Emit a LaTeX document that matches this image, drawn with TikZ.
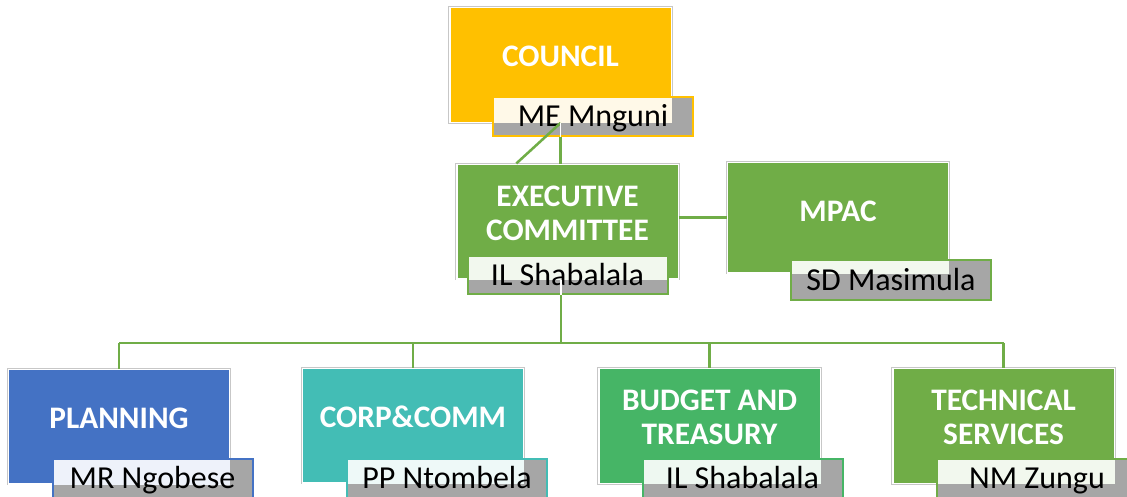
\documentclass[tikz,border=0pt]{standalone}
\usepackage{fontspec}
\setmainfont{Carlito}
\usetikzlibrary{calc,positioning}
\definecolor{councilorange}{HTML}{FFC000}
\definecolor{excogreen}{HTML}{70AD47}
\definecolor{planblue}{HTML}{4472C4}
\definecolor{corpteal}{HTML}{43BDB5}
\definecolor{budgetgreen}{HTML}{46B566}
\definecolor{namegrey}{HTML}{A6A6A6}
\tikzset{unit/.style={rectangle, fill=#1, minimum width=166pt, minimum height=86pt,
                      inner sep=0pt, draw=white, line width=1pt,
                      preaction={draw=black!22, line width=2.4pt}},
         title/.style={text=white, font=\bfseries\fontsize{23.5}{25.5}\selectfont,
                       align=center, yshift=6.3pt},
         namebox/.style 2 args={rectangle, fill=namegrey, draw=#1, line width=1.5pt,
                      minimum width=150pt, minimum height=29pt, inner sep=0pt,
                      text height=15.5pt, text depth=0pt,
                      font=\fontsize{24}{28}\selectfont,
                      path picture={\fill[#1!9!white] (path picture bounding box.north west)
                                    rectangle (#2.south east);}},
         link/.style={draw=excogreen, line width=1.9pt}}

\begin{document}
\begin{tikzpicture}[x=0.75pt, y=-0.75pt]
  \useasboundingbox (0,0) rectangle (1127,496);

  % units
  \node[unit=councilorange] (council) at (560.5,65) {};
  \node[unit=excogreen] (exec) at (567.5,221.5) {};
  \node[unit=excogreen, minimum height=83pt] (mpac) at (838,217.5) {};
  \node[unit=planblue] (planning) at (119,426.5) {};
  \node[unit=corpteal] (corp) at (413,425.5) {};
  \node[unit=budgetgreen] (budget) at (709.5,426) {};
  \node[unit=excogreen] (tech) at (1003.5,426) {};

  \node[title] (councilt) at (council) {COUNCIL};
  \node[title] (exect) at (exec) {EXECUTIVE\\COMMITTEE};
  \node[title, yshift=-2pt] (mpact) at (mpac) {MPAC};
  \node[title] (planningt) at (planning) {PLANNING};
  \node[title] (corpt) at (corp) {CORP\&COMM};
  \node[title] (budgett) at (budget) {BUDGET AND\\TREASURY};
  \node[title] (techt) at (tech) {TECHNICAL\\SERVICES};

  % connectors
  \coordinate (bus) at (561,343);
  \draw[link] (council.south) -- (council.south |- exec.north);
  \draw[link] (exec.east |- mpac.west) -- (mpac.west);
  \draw[link] (exec.south -| bus) -- (bus);
  \draw[link] (planning.north |- bus) -- (tech.north |- bus);
  \foreach \n in {planning,corp,budget,tech}
    \draw[link] (\n.north |- bus) -- (\n.north);

  % names
  \node[namebox={councilorange}{council}] (councilname) at (593,116.5) {ME Mnguni};
  \node[namebox={excogreen}{exec}] (execname) at (567.5,275) {IL Shabalala};
  \node[namebox={excogreen}{mpac}, minimum height=30pt] (mpacname) at (891,280) {SD Masimula};
  \node[namebox={planblue}{planning}] (planningname) at (152.5,478.5) {MR Ngobese};
  \node[namebox={corpteal}{corp}] (corpname) at (447,478.5) {PP Ntombela};
  \node[namebox={budgetgreen}{budget}] (budgetname) at (742.5,478.5) {IL Shabalala};
  \node[namebox={excogreen}{tech}] (techname) at (1037,478.5) {NM Zungu};

  \draw[link] (council.south) -- ($(exec.north west)!0.27!(exec.north east)$);
  \draw[white, line width=1pt] (council.south) -- (council.south |- councilname.south);
  \draw[white, line width=1pt] (exec.south -| bus) -- (execname.south -| bus);
\end{tikzpicture}
\end{document}
